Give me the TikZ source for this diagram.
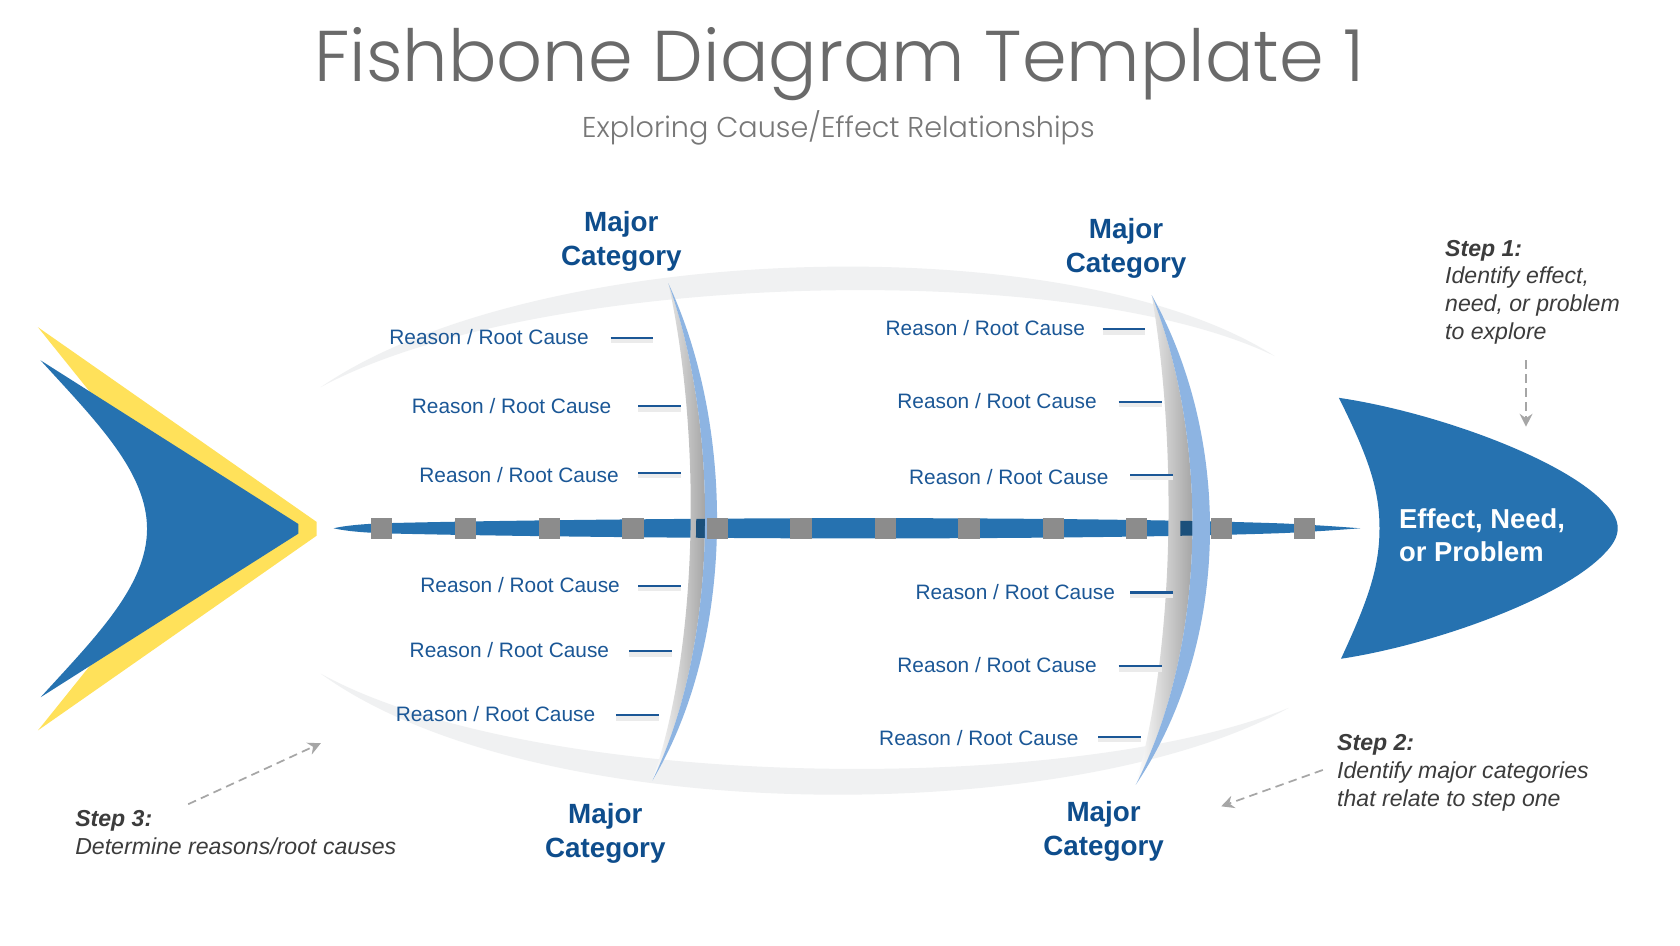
\documentclass[tikz,border=0pt]{standalone}
\usepackage{fontspec}
\setmainfont{Liberation Sans}
\newfontfamily\titlefont{Poppins}[UprightFont=* Light]
\usetikzlibrary{arrows.meta}
\definecolor{fishblue}{HTML}{2672B0}
\definecolor{tailyellow}{HTML}{FFE15A}
\definecolor{boneblue}{HTML}{8DB4E2}
\definecolor{sqgray}{HTML}{8C8C8C}
\definecolor{majorblue}{HTML}{0E4D8C}
\definecolor{reasonblue}{HTML}{1B5796}
\definecolor{bandgray}{HTML}{F0F1F2}
\definecolor{stepgray}{HTML}{3C3C3C}
\definecolor{arrowgray}{HTML}{A6A6A6}
\definecolor{titlegray}{HTML}{6A6A6A}
\definecolor{subgray}{HTML}{777777}
\tikzset{
 reason/.style={font=\fontsize{9.75}{11.7}\selectfont, text=reasonblue, inner sep=0pt, anchor=east},
 major/.style={font=\fontsize{13}{16}\selectfont\bfseries, text=majorblue, align=center, inner sep=0pt, anchor=north},
 steptext/.style={font=\fontsize{10.8}{13}\selectfont\itshape, text=stepgray, align=left, inner sep=0pt, anchor=north west},
 dashline/.style={draw=reasonblue, line width=1pt},
 dashshadow/.style={draw=black!8, line width=2pt},
 steparrow/.style={draw=arrowgray, line width=0.8pt, dash pattern=on 4pt off 2.5pt, -{Stealth[length=6pt,width=6pt,inset=2pt]}},
}
\begin{document}
\begin{tikzpicture}[x=0.5pt,y=-0.5pt]
\useasboundingbox (0,0) rectangle (1571,884);
\fill[white] (0,0) rectangle (1571,884);

% title
\node[font=\titlefont\fontsize{33.6}{38}\selectfont, text=titlegray, anchor=base, inner sep=0pt] (title) at (785,76.5) {Fishbone Diagram Template 1};
\node[font=\titlefont\fontsize{13.4}{16}\selectfont, text=subgray, anchor=base, inner sep=0pt] (subtitle) at (784,128.4) {Exploring Cause/Effect Relationships};

% faint bands
\fill[bandgray] (300,362) .. controls (500,225) and (1000,210) .. (1192,333) .. controls (1000,240) and (500,254) .. (300,362) -- cycle;
\fill[bandgray] (300,630) .. controls (500,775) and (1000,775) .. (1205,662) .. controls (1000,745) and (500,740) .. (300,630) -- cycle;

% tail
\fill[tailyellow] (35.5,306) -- (296,488) -- (296,501) -- (35.5,683) -- (187,494.5) -- cycle;
\fill[fishblue] (38,337) -- (279,490) -- (279,499) -- (38,652) .. controls (89,596) and (137.5,548) .. (137.5,494.5) .. controls (137.5,441) and (89,393) .. (38,337) -- cycle;

% spine
\def\spinepath{(312,494) .. controls (325,491) and (345,489.5) .. (370,489) .. controls (500,486) and (700,484.5) .. (800,484.5) .. controls (950,484.5) and (1100,486) .. (1200,489.5) .. controls (1240,491.5) and (1258,493) .. (1272,494) .. controls (1258,495) and (1240,496.5) .. (1200,498.5) .. controls (1100,502) and (950,503.5) .. (800,503.5) .. controls (700,503.5) and (500,502) .. (370,499) .. controls (345,498.5) and (325,497) .. (312,494) -- cycle}
\fill[fishblue] \spinepath;

% bone 1
\shade[left color=white, right color=black!45] (625,265) .. controls (655,400) and (655,600) .. (610,730) .. controls (673,600) and (673,400) .. (625,265) -- cycle;
\begin{scope}
\clip \spinepath;
\fill[fishblue!70!black] (625,265) .. controls (662,400) and (662,600) .. (610,730) .. controls (673,600) and (673,400) .. (625,265) -- cycle;
\end{scope}
\fill[boneblue] (625,265) .. controls (688,400) and (688,600) .. (610,730) .. controls (673,600) and (673,400) .. (625,265) -- cycle;

% bone 2
\shade[left color=white, right color=black!45] (1077,276) .. controls (1100,410) and (1100,600) .. (1062,734) .. controls (1130,600) and (1130,410) .. (1077,276) -- cycle;
\begin{scope}
\clip \spinepath;
\fill[fishblue!70!black] (1077,276) .. controls (1115,410) and (1115,600) .. (1062,734) .. controls (1130,600) and (1130,410) .. (1077,276) -- cycle;
\end{scope}
\fill[boneblue] (1077,276) .. controls (1152,410) and (1152,600) .. (1062,734) .. controls (1130,600) and (1130,410) .. (1077,276) -- cycle;

% squares
\foreach \sx in {357,435.5,514,592,671,749,828,906,985,1063,1142,1220}
  \fill[sqgray] (\sx-10,484) rectangle (\sx+10,504);

% head
\fill[fishblue] (1252,372) .. controls (1340,385) and (1460,428) .. (1500,470) .. controls (1517,487) and (1517,501) .. (1500,518) .. controls (1460,560) and (1340,603) .. (1254,616) .. controls (1280,560) and (1290,530) .. (1290,494) .. controls (1290,458) and (1280,428) .. (1252,372) -- cycle;
\node[font=\fontsize{12.8}{15.5}\selectfont\bfseries, text=white, align=left, inner sep=0pt, anchor=north west] (effect) at (1308,475) {Effect, Need,\\or Problem};

% major categories
\node[major] (mc1) at (581,197) {Major\\Category};
\node[major] (mc2) at (1053,204) {Major\\Category};
\node[major] (mc3) at (566,751) {Major\\Category};
\node[major] (mc4) at (1032,749) {Major\\Category};

% reasons
\foreach \i/\tx/\ty/\da/\db/\dy in {1/551/315/571/611/316, 2/572/380/597/637/380, 3/579/444/597/637/442, 4/580/547/597/637/548, 5/570/608/588/628/609, 6/557/668/576/616/669, 7/1015/307/1031/1071/308, 8/1026/375/1046/1087/376, 9/1037/446/1057/1097/444, 10/1043/554/1057/1097/554, 11/1026/622/1046/1087/623, 12/1009/690/1027/1067/689}{
  \node[reason] (r\i) at (\tx,\ty) {Reason / Root Cause};
  \draw[dashshadow] (\da,\dy+3) -- (\db,\dy+3);
  \draw[dashline] (\da,\dy) -- (\db,\dy);
}

% steps
\node[steptext] (s1) at (1351,224) {\textbf{Step 1:}\\Identify effect,\\need, or problem\\to explore};
\node[steptext] (s2) at (1250,686.5) {\textbf{Step 2:}\\Identify major categories\\that relate to step one};
\node[steptext] (s3) at (70,757.5) {\textbf{Step 3:}\\Determine reasons/root causes};

\coordinate (a1s) at (1427,337);
\coordinate (a1e) at (1427,399);
\coordinate (a2s) at (1237,720);
\coordinate (a2e) at (1142,754);
\coordinate (a3s) at (176,752);
\coordinate (a3e) at (300,695);
\draw[steparrow] (a1s) -- (a1e);
\draw[steparrow] (a2s) -- (a2e);
\draw[steparrow] (a3s) -- (a3e);
\end{tikzpicture}
\end{document}
